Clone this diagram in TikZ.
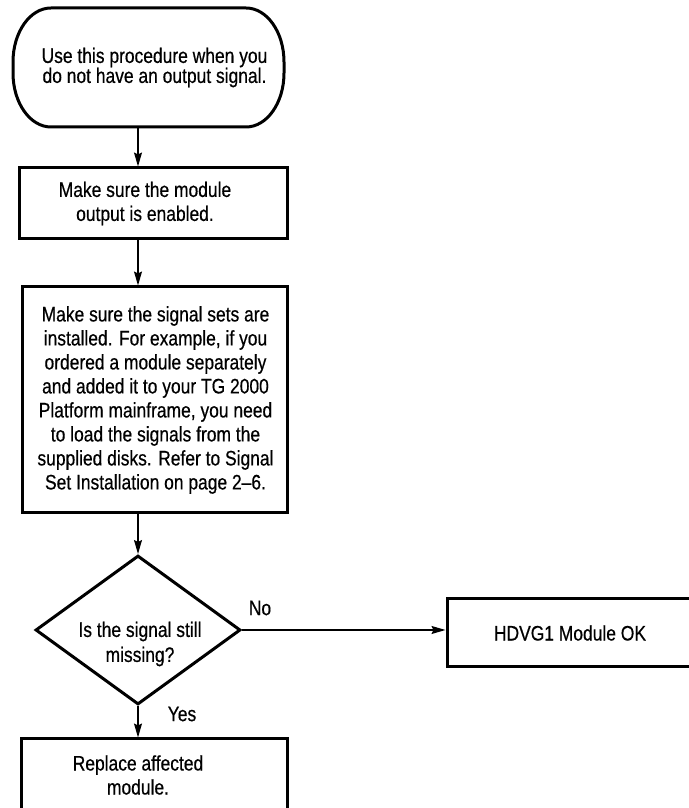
\documentclass[tikz,border=0pt]{standalone}
\usepackage{fontspec}
\setmainfont[FakeStretch=0.83,FakeBold=0.5]{Liberation Sans}
\usepackage{tikz}
\usetikzlibrary{shapes.geometric,arrows.meta}

\begin{document}
\begin{tikzpicture}[
    x=1pt,
    y=1pt,
    outline/.style={
        line width=3pt
    },
    process/.style={
        draw,
        outline,
        inner sep=0pt
    },
    decision/.style={
        draw,
        outline,
        diamond,
        inner sep=0pt,
        minimum width=205pt,
        minimum height=149pt
    },
    txt/.style={
        align=center,
        font=\fontsize{21}{24}\selectfont
    },
    flow/.style={
        line width=1.1pt,
        -{Stealth[length=14pt,width=8pt,inset=2pt]}
    }
]

\useasboundingbox (0,0) rectangle (688,808);


\node[inner sep=0pt, outer sep=0pt, minimum width=271pt, minimum height=119pt] (start) at (148.5,740.5) {};
\draw[outline]
    ([xshift=38pt]start.north west) -- ([xshift=-38pt]start.north east)
    arc[start angle=90, end angle=0, x radius=38pt, y radius=54pt]
    -- ++(0,-11pt)
    arc[start angle=0, end angle=-90, x radius=38pt, y radius=54pt]
    -- ([xshift=38pt]start.south west)
    arc[start angle=270, end angle=180, x radius=38pt, y radius=54pt]
    -- ++(0,11pt)
    arc[start angle=180, end angle=90, x radius=38pt, y radius=54pt]
    -- cycle;
\node[txt, font=\fontsize{21}{20}\selectfont] at ([xshift=6pt]start.center)
    {Use this procedure when you\\do not have an output signal.};


\node[process, minimum width=268pt, minimum height=71pt] (enable) at (153,604.5) {};
\node[txt] at ([xshift=-8pt]enable.center) {Make sure the module\\output is enabled.};


\node[process, minimum width=265pt, minimum height=226pt] (install) at (154.5,408) {};
\node[txt] at ([xshift=1pt]install.center)
    {Make sure the signal sets are\\installed. For example, if you\\ordered a module separately\\and added it to your TG 2000\\Platform mainframe, you need\\to load the signals from the\\supplied disks. Refer to Signal\\Set Installation on page 2--6.};


\node[decision] (check) at (138,178) {};
\node[txt, font=\fontsize{21}{25}\selectfont] at ([xshift=2pt,yshift=-14pt]check.center)
    {Is the signal still\\missing?};


\node[process, minimum width=246pt, minimum height=68pt] (ok) at (570,175) {};
\node[txt] at (ok.center) {HDVG1 Module OK};


\node[process, minimum width=266pt, minimum height=72pt] (replace) at (154,33) {};
\node[txt] at ([xshift=-16pt]replace.center) {Replace affected\\module.};


\draw[flow] (start.south -| check.north) -- (enable.north -| check.north);
\draw[flow] (enable.south -| check.north) -- (install.north -| check.north);
\draw[flow] (install.south -| check.north) -- (check.north);
\draw[flow] (check.east) -- (check.east -| ok.west);
\draw[flow] (check.south) -- (replace.north -| check.south);

\node[txt] (no) at ([xshift=18pt,yshift=22pt]check.east) {No};
\node[txt] (yes) at ([xshift=44pt,yshift=-8pt]check.south) {Yes};

\end{tikzpicture}
\end{document}
